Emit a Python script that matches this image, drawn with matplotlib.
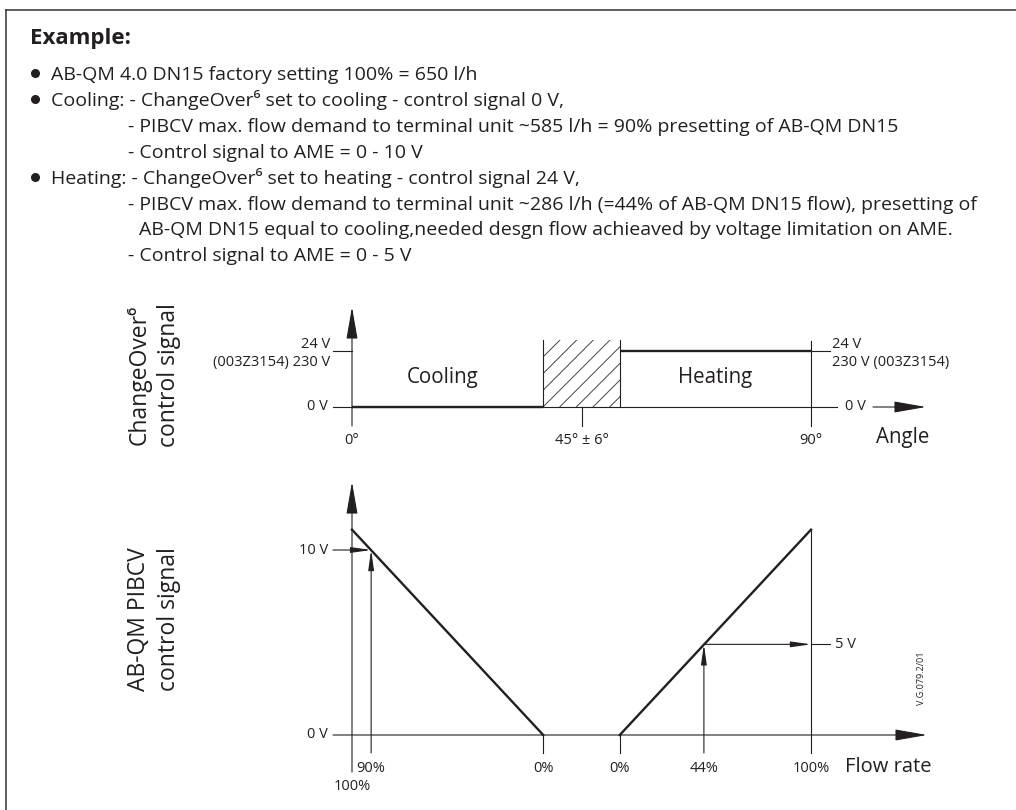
import numpy as np
import matplotlib.pyplot as plt
from matplotlib.lines import Line2D

W, H = 1016, 810
plt.rcParams['font.family'] = ['Open Sans', 'DejaVu Sans']
plt.rcParams['hatch.linewidth'] = 0.7
ink = '#231f20'
thick, thin = 1.7, 0.8

# ---- data ----
# changeover (top): signal vs. angle
angle_ticks = [0, 45, 90]
angle_labels = ['0°', '45° ± 6°', '90°']
band = [37.5, 52.5]              # switching band drawn around 45°
band_top = 28.7
cool_angle = [0, 37.5]
cool_signal = [0, 0]
heat_angle = [52.5, 90]
heat_signal = [24, 24]

# PIBCV (bottom): control signal vs. flow rate
cool_flow = [100, 0]
cool_volt = [11.1, 0]
heat_flow = [0, 100]
heat_volt = [0, 11.1]
cool_set = (90, 10)              # 90 % -> 10 V
heat_set = (44, 4.9)             # 44 % -> 5 V

notes = [
    (51, 'AB-QM 4.0 DN15 factory setting 100% = 650 l/h', True),
    (51, 'Cooling: - ChangeOver⁶ set to cooling - control signal 0 V,', True),
    (128, '- PIBCV max. flow demand to terminal unit ~585 l/h = 90% presetting of AB-QM DN15', False),
    (128, '- Control signal to AME = 0 - 10 V', False),
    (51, 'Heating: - ChangeOver⁶ set to heating - control signal 24 V,', True),
    (128, '- PIBCV max. flow demand to terminal unit ~286 l/h (=44% of AB-QM DN15 flow), presetting of', False),
    (139, 'AB-QM DN15 equal to cooling,needed desgn flow achieaved by voltage limitation on AME.', False),
    (128, '- Control signal to AME = 0 - 5 V', False),
]

# ---- layout helpers (pixel -> data) ----
x0_px, x90_px = 352, 811
dpp = 90 / (x90_px - x0_px)
v1 = 24 / (407 - 351)
v2 = 10 / (735 - 550)


def gx(px):
    return (px - x0_px) * dpp


def gy1(py):
    return (407 - py) * v1


def gy2(py):
    return (735 - py) * v2


def cool_x(f):
    return band[0] * (1 - np.asarray(f) / 100)


def heat_x(f):
    return band[1] + (90 - band[1]) * np.asarray(f) / 100


def arrow(ax, start, end, big=True):
    style = '-|>,head_length=2,head_width=0.35' if big else '-|>,head_length=1.2,head_width=0.17'
    ax.annotate('', xy=end, xytext=start,
                arrowprops=dict(arrowstyle=style, color=ink, lw=thin,
                                shrinkA=0, shrinkB=0))


fig = plt.figure(figsize=(W / 100, H / 100), dpi=100)

# frame
fig.add_artist(Line2D([6 / W, 6 / W], [0, 1 - 10 / H], color='#333333', lw=1.1))
fig.add_artist(Line2D([6 / W, 1], [1 - 10 / H, 1 - 10 / H], color='#333333', lw=1.1))

# header text
fig.text(30 / W, 1 - 44 / H, 'Example:', fontsize=16, fontweight='bold', color=ink, va='baseline')
for i, (x, txt, bullet) in enumerate(notes):
    yb = 80 + 25.9 * i
    if bullet:
        fig.add_artist(Line2D([35 / W], [1 - (yb - 7) / H], marker='o', markersize=5.5,
                              color=ink, lw=0))
    fig.text(x / W, 1 - yb / H, txt, fontsize=14, color=ink, va='baseline')

# ---- top chart ----
ax1 = fig.add_axes([0, 0, 1, 1])
ax1.set_xlim(gx(0), gx(W))
ax1.set_ylim(gy1(H), gy1(0))
ax1.axis('off')

arrow(ax1, (0, gy1(426)), (0, gy1(307)))
for s in [0, 24]:
    ax1.plot([gx(333), 0], [s, s], color=ink, lw=thin)
ax1.plot([0, gx(837)], [0, 0], color=ink, lw=thin)
ax1.text(gx(855), 0, '0 V', ha='center', va='center', fontsize=10.5, color=ink)
arrow(ax1, (gx(873), 0), (gx(926), 0))
ax1.plot([90, 90], [gy1(426), gy1(341)], color=ink, lw=thin)
ax1.plot([45, 45], [0, gy1(426)], color=ink, lw=thin)
ax1.fill_between(band, 0, band_top, facecolor='none', edgecolor='#444444', hatch='//', lw=0)
for b in band:
    ax1.plot([b, b], [0, band_top], color=ink, lw=thin)
ax1.plot(cool_angle, cool_signal, color=ink, lw=thick, solid_capstyle='butt')
ax1.plot(heat_angle, heat_signal, color=ink, lw=thick, solid_capstyle='butt')
ax1.plot([90, gx(830)], [24, 24], color=ink, lw=thin)

ax1.text(gx(330), gy1(348), '24 V', ha='right', va='baseline', fontsize=10.5, color=ink)
ax1.text(gx(330), gy1(366), '(003Z3154) 230 V', ha='right', va='baseline', fontsize=10.5, color=ink)
ax1.text(gx(328), 0, '0 V', ha='right', va='center', fontsize=10.5, color=ink)
ax1.text(gx(832), gy1(348), '24 V', ha='left', va='baseline', fontsize=10.5, color=ink)
ax1.text(gx(832), gy1(366), '230 V (003Z3154)', ha='left', va='baseline', fontsize=10.5, color=ink)
for a, lab in zip(angle_ticks, angle_labels):
    ax1.text(a, gy1(440), lab, ha='center', va='center', fontsize=10.5, color=ink)
ax1.text(gx(876), gy1(438), 'Angle', ha='left', va='center', fontsize=14.8, color=ink)
ax1.text(gx(443), gy1(378), 'Cooling', ha='center', va='center', fontsize=14.8, color=ink)
ax1.text(gx(715), gy1(378), 'Heating', ha='center', va='center', fontsize=14.8, color=ink)

fig.text(139 / W, 1 - 375 / H, 'ChangeOver⁶', rotation=90, ha='center', va='center', fontsize=16.5, color=ink)
fig.text(169 / W, 1 - 375 / H, 'control signal', rotation=90, ha='center', va='center', fontsize=16.5, color=ink)

# ---- bottom chart ----
ax2 = fig.add_axes([0, 0, 1, 1])
ax2.set_xlim(gx(0), gx(W))
ax2.set_ylim(gy2(H), gy2(0))
ax2.axis('off')

arrow(ax2, (0, gy2(772)), (0, gy2(482)))
arrow(ax2, (gx(333), 0), (gx(927), 0))
ax2.plot(cool_x(cool_flow), cool_volt, color=ink, lw=thick)
ax2.plot(heat_x(heat_flow), heat_volt, color=ink, lw=thick)
ax2.plot([cool_x(0), cool_x(0)], [0, gy2(753)], color=ink, lw=thin)
ax2.plot([heat_x(0), heat_x(0)], [0, gy2(753)], color=ink, lw=thin)
ax2.plot([heat_x(100), heat_x(100)], [gy2(753), heat_volt[-1]], color=ink, lw=thin)

arrow(ax2, (gx(333), cool_set[1]), (cool_x(cool_set[0]), cool_set[1]), big=False)
arrow(ax2, (cool_x(cool_set[0]), gy2(753)), (cool_x(cool_set[0]), cool_set[1]), big=False)
arrow(ax2, (heat_x(heat_set[0]), gy2(753)), (heat_x(heat_set[0]), heat_set[1]), big=False)
arrow(ax2, (heat_x(heat_set[0]), heat_set[1]), (heat_x(100), heat_set[1]), big=False)
ax2.plot([heat_x(100), gx(830)], [heat_set[1], heat_set[1]], color=ink, lw=thin)

ax2.text(gx(328), cool_set[1], '10 V', ha='right', va='center', fontsize=10.5, color=ink)
ax2.text(gx(328), 0, '0 V', ha='right', va='center', fontsize=10.5, color=ink)
ax2.text(gx(835), heat_set[1], '5 V', ha='left', va='center', fontsize=10.5, color=ink)
ax2.text(cool_x(cool_set[0]), gy2(768), f'{cool_set[0]}%', ha='center', va='center', fontsize=10.5, color=ink)
ax2.text(cool_x(100), gy2(787), '100%', ha='center', va='center', fontsize=10.5, color=ink)
ax2.text(cool_x(0), gy2(768), '0%', ha='center', va='center', fontsize=10.5, color=ink)
ax2.text(heat_x(0), gy2(768), '0%', ha='center', va='center', fontsize=10.5, color=ink)
ax2.text(heat_x(heat_set[0]), gy2(768), f'{heat_set[0]}%', ha='center', va='center', fontsize=10.5, color=ink)
ax2.text(heat_x(100), gy2(768), '100%', ha='center', va='center', fontsize=10.5, color=ink)
ax2.text(gx(845), gy2(767), 'Flow rate', ha='left', va='center', fontsize=14.5, color=ink)
ax2.text(gx(921), gy2(678), 'V.G.079.2/01', rotation=90, ha='center', va='center', fontsize=6.5, color=ink)

fig.text(139 / W, 1 - 619 / H, 'AB-QM PIBCV', rotation=90, ha='center', va='center', fontsize=16.5, color=ink)
fig.text(169 / W, 1 - 619 / H, 'control signal', rotation=90, ha='center', va='center', fontsize=16.5, color=ink)

fig.savefig('out.png', dpi=100)
